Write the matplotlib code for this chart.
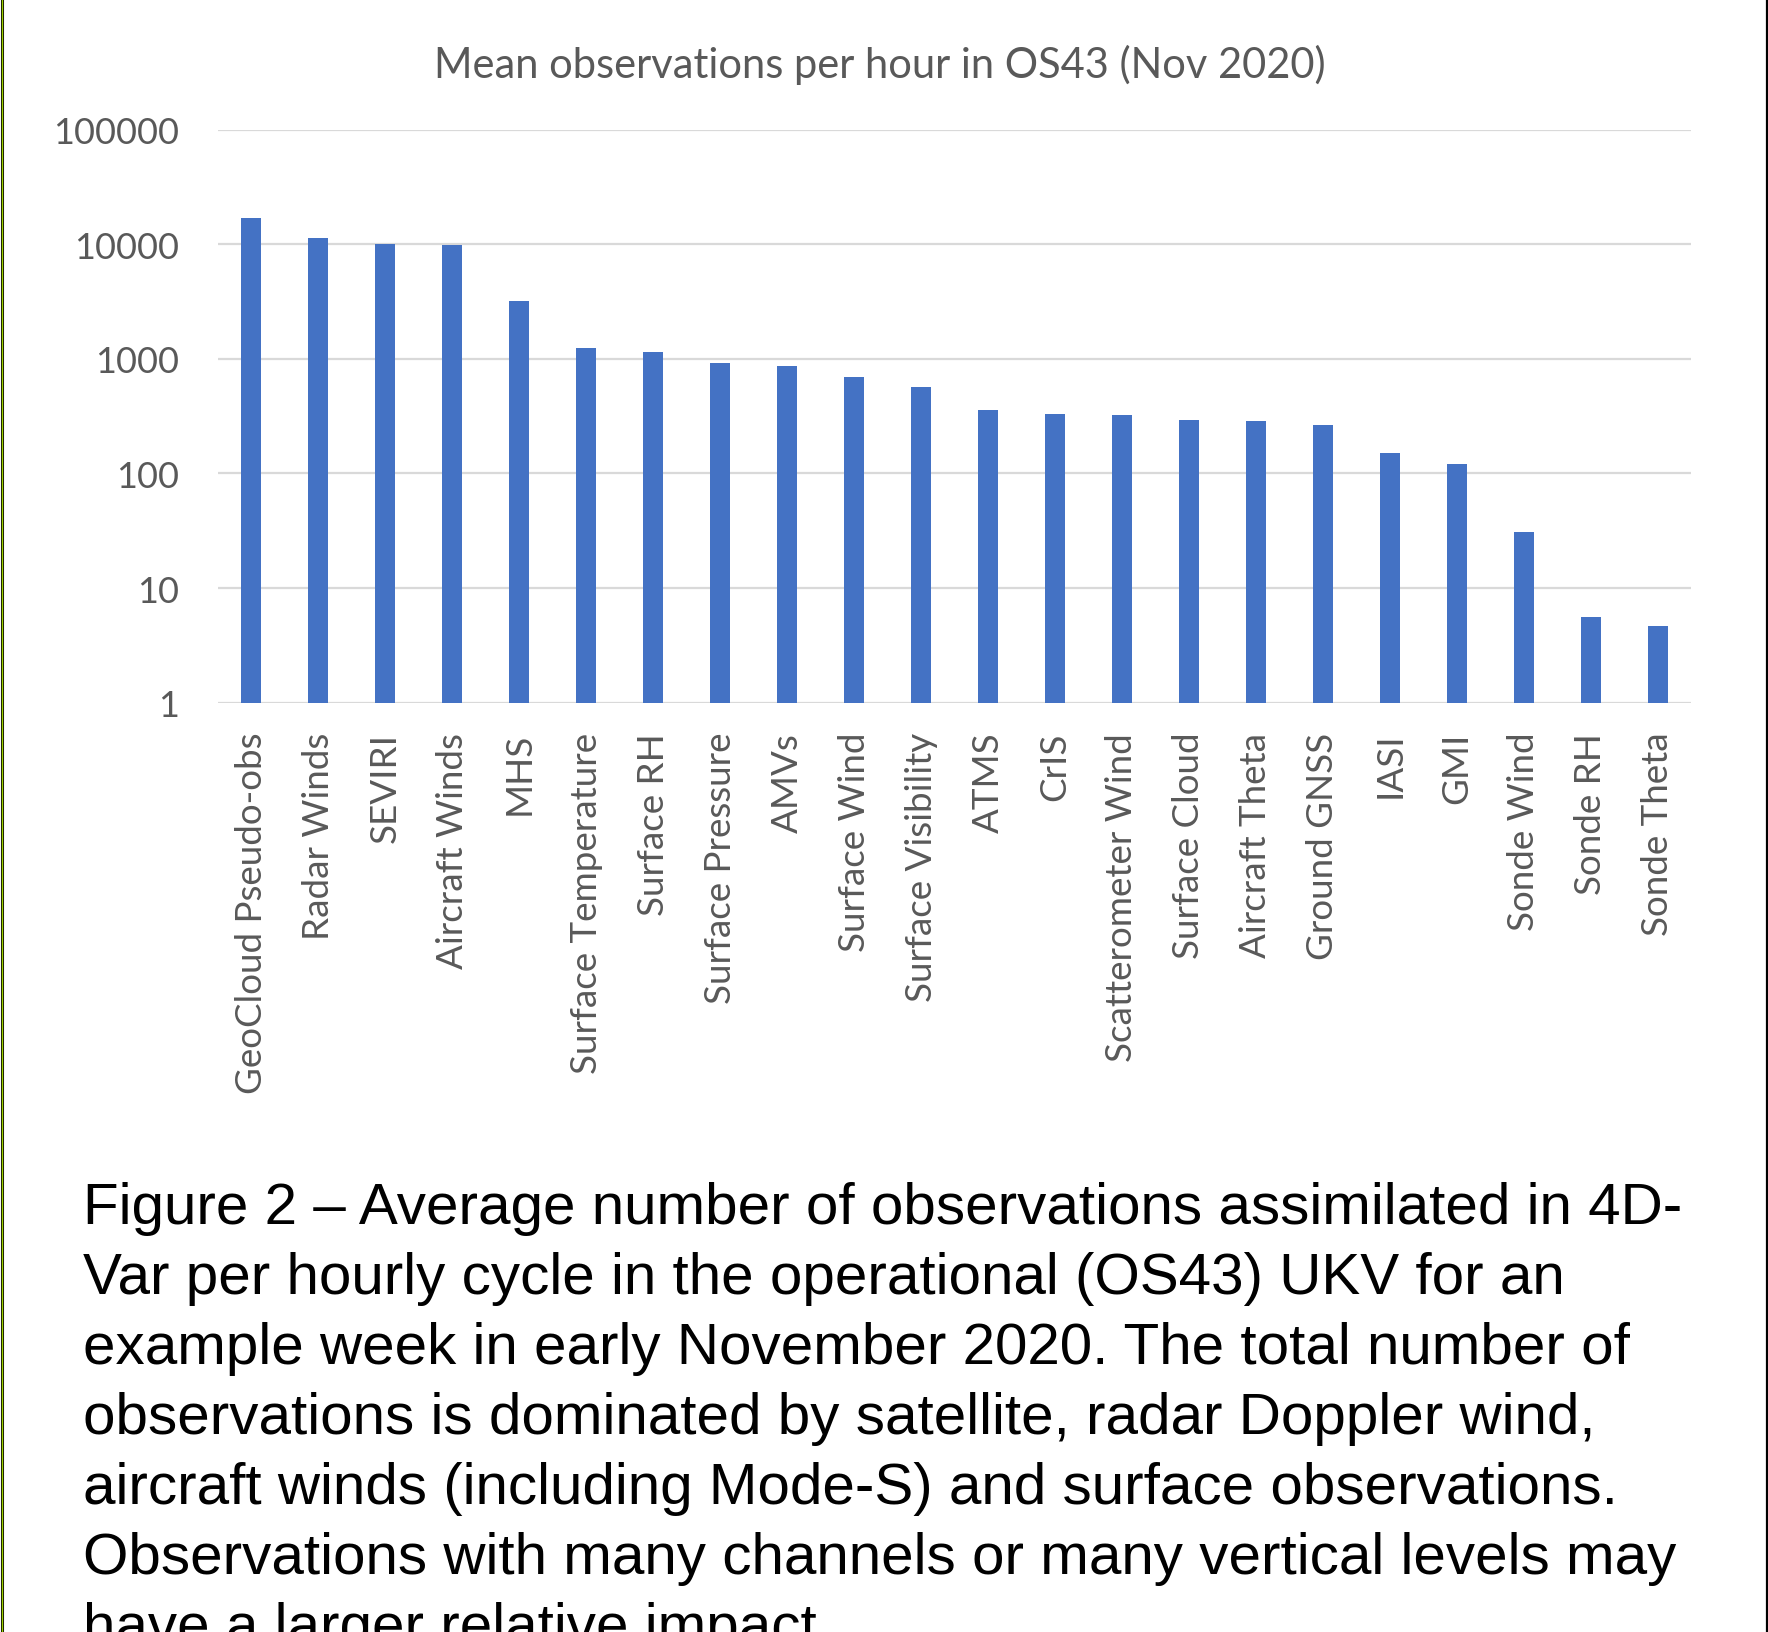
import numpy as np
import matplotlib.pyplot as plt
from matplotlib.lines import Line2D

# observation types and mean counts per hourly cycle
obs_types = ["GeoCloud Pseudo-obs", "Radar Winds", "SEVIRI", "Aircraft Winds", "MHS",
             "Surface Temperature", "Surface RH", "Surface Pressure", "AMVs", "Surface Wind",
             "Surface Visibility", "ATMS", "CrIS", "Scatterometer Wind", "Surface Cloud",
             "Aircraft Theta", "Ground GNSS", "IASI", "GMI", "Sonde Wind", "Sonde RH", "Sonde Theta"]
obs_per_hour = [17000, 11400, 10100, 9850, 3200,
                1245, 1150, 915, 875, 695,
                570, 361, 328, 321, 294,
                287, 267, 152, 121, 31, 5.6, 4.7]

y_ticks = [1, 10, 100, 1000, 10000, 100000]
y_ticklabels = ["1", "10", "100", "1000", "10000", "100000"]

title = "Mean observations per hour in OS43 (Nov 2020)"
caption_lines = [
    "Figure 2 \u2013 Average number of observations assimilated in 4D-",
    "Var per hourly cycle in the operational (OS43) UKV for an",
    "example week in early November 2020. The total number of",
    "observations is dominated by satellite, radar Doppler wind,",
    "aircraft winds (including Mode-S) and surface observations.",
    "Observations with many channels or many vertical levels may",
    "have a larger relative impact.",
]

cap_font = "Liberation Sans"
chart_font = "Lato"
grey = "#595959"

W, H = 1768, 1633
fig = plt.figure(figsize=(W / 100, H / 100), dpi=100)
fig.patch.set_facecolor("white")

ax = fig.add_axes([217.6 / W, 1 - 703.6 / H, (1691.4 - 217.6) / W, (703.6 - 130.8) / H])
x = np.arange(len(obs_types))
ax.bar(x, obs_per_hour, width=0.31, color="#4472C4", zorder=3)
ax.set_yscale("log")
ax.set_ylim(1, 100000)
ax.set_xlim(-0.5, len(obs_types) - 0.5)
ax.set_yticks(y_ticks)
ax.set_yticklabels(y_ticklabels, fontfamily=chart_font, fontsize=26, color=grey)
ax.minorticks_off()
ax.set_xticks(x)
ax.set_xticklabels(obs_types, rotation=90, fontfamily=chart_font, fontsize=26.5, color=grey,
                   va="top", ha="center")
ax.tick_params(axis="y", length=0, pad=28)
ax.tick_params(axis="x", length=0, pad=21)
ax.grid(axis="y", color="#d9d9d9", linewidth=1.6, zorder=0)
for s in ax.spines.values():
    s.set_visible(False)

fig.text(879.5 / W, 1 - 65 / H, title, ha="center", va="center",
         fontfamily=chart_font, fontsize=30, color=grey)

# caption below the chart
for i, line in enumerate(caption_lines):
    fig.text(83 / W, 1 - (1224 + i * 70) / H, line, ha="left", va="baseline",
             fontfamily=cap_font, fontsize=42, color="black")

# page borders
fig.add_artist(Line2D([1.5 / W, 1.5 / W], [0, 1], color="black", linewidth=2.2, transform=fig.transFigure))
fig.add_artist(Line2D([1.5 / W, 1.5 / W], [0, 1], color="#9acd00", linewidth=1.0, transform=fig.transFigure))
fig.add_artist(Line2D([1 - 1.2 / W, 1 - 1.2 / W], [0, 1], color="black", linewidth=1.6, transform=fig.transFigure))

fig.savefig("out.png", dpi=100)
